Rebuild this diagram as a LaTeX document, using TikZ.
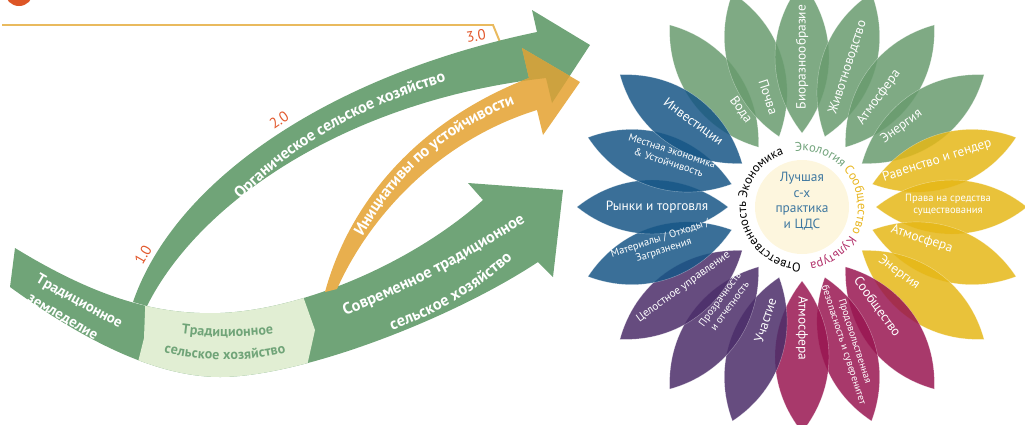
\documentclass[tikz,border=0pt]{standalone}
\usepackage{fontspec}
\setmainfont{PT Sans}
\usetikzlibrary{decorations.text}

\definecolor{arrowgreen}{RGB}{112,164,120}
\definecolor{palegreen}{RGB}{225,238,211}
\definecolor{arroworange}{RGB}{232,175,78}
\definecolor{overlapochre}{RGB}{205,162,63}
\definecolor{scaleline}{RGB}{233,186,94}
\definecolor{scalenum}{RGB}{226,88,44}
\definecolor{badge}{RGB}{221,86,38}
\definecolor{ecogreen}{RGB}{104,155,110}
\definecolor{comyellow}{RGB}{229,183,23}
\definecolor{culmagenta}{RGB}{153,22,81}
\definecolor{resppurple}{RGB}{75,45,105}
\definecolor{econblue}{RGB}{23,86,134}
\definecolor{hubcream}{RGB}{253,246,222}
\definecolor{hubblue}{RGB}{63,120,160}
\definecolor{ecotext}{RGB}{112,162,122}
\definecolor{comtext}{RGB}{232,181,30}
\definecolor{cultext}{RGB}{178,48,106}

% one petal, turned about the flower centre
\newcommand{\petal}[2]{%
  \filldraw[petal, fill=#2, rotate=#1] (74,0) .. controls (120,36) and (180,36) .. (225,0)
    .. controls (180,-36) and (120,-36) .. (74,0) -- cycle;}

% lower band, ending in its arrowhead
\newcommand{\bandpath}{(15,248) .. controls (100,300) and (160,315) .. (220,313)
  .. controls (300,310) and (410,265) .. (483,200) -- (468,183) -- (563,190) -- (553,277)
  -- (538,262) .. controls (450,320) and (300,377) .. (220,377)
  .. controls (160,377) and (90,345) .. (10,287) -- cycle}
% upper green arrow
\newcommand{\organicpath}{(133,302) .. controls (175,180) and (330,75) .. (537,32)
  -- (532,10) -- (590,45) -- (552,103) -- (546,78)
  .. controls (350,100) and (200,200) .. (147,306) -- cycle}
% orange arrow
\newcommand{\orangepath}{(325,292) .. controls (350,200) and (420,120) .. (529,78)
  -- (522,48) -- (580,82) -- (543,135) -- (537,110)
  .. controls (440,140) and (370,215) .. (337,289) -- cycle}

\begin{document}
\begin{tikzpicture}[x=0.025cm, y=-0.025cm,
  petal/.style={fill opacity=0.85, draw=white, draw opacity=0.4, line width=0.3pt},
  petaltext/.style={text=white, align=center, inner sep=0pt, font=\fontsize{9.5}{11}\selectfont},
  smalltext/.style={petaltext, font=\fontsize{7.5}{8.6}\selectfont},
  num/.style={text=scalenum, inner sep=0pt, font=\fontsize{10.5}{12}\selectfont},
  hub/.style={circle, fill=hubcream, minimum size=2.35cm, inner sep=0pt},
  hubtext/.style={align=center, text=hubblue, inner sep=0pt, font=\fontsize{9.5}{11}\selectfont},
  arrowlabel/.style={decorate, decoration={text along path, text align=center, raise=-4pt,
    text={|\fontsize{11.5}{13}\selectfont\bfseries\color{white}|#1}}},
  fieldlabel/.style={decorate, decoration={text along path, text align=center, raise=-3.7pt,
    text={|\fontsize{10.5}{12}\selectfont\bfseries\color{white}|#1}}},
  bandlabel/.style={decorate, decoration={text along path, text align=center, raise=-3.5pt,
    text={|\fontsize{10}{12}\selectfont\bfseries\color{arrowgreen}|#1}}},
  ringlabel/.style 2 args={decorate, decoration={text along path,
    text={|\fontsize{9}{11}\selectfont\color{#1}|#2}}}]
\useasboundingbox (0,0) rectangle (1025,424);
\clip (0,0) rectangle (1025,424);

% badge and scale line
\fill[badge] (19,-8) circle[radius=14];
\draw[draw=scaleline, line width=1.4pt] (2,25) -- (493,25) -- (500,42);

% arrows
\fill[arrowgreen] \bandpath;
\begin{scope}
  \clip \bandpath;
  \fill[palegreen] (146,285) -- (144,338) -- (131,390) -- (306,390) -- (307,366) -- (315,330) -- (299,285) -- cycle;
\end{scope}
\fill[arrowgreen] \organicpath;
\fill[arroworange] \orangepath;
\begin{scope}
  \clip \organicpath;
  \fill[overlapochre] \orangepath;
\end{scope}

\node[num, rotate=60] (one) at (143,255) {1.0};
\node[num, rotate=35] (two) at (279,120) {2.0};
\node[num, rotate=8] (three) at (476,36) {3.0};

\path[arrowlabel={Органическое сельское хозяйство}] (200,240) .. controls (265,150) and (360,92) .. (500,62);
\path[arrowlabel={Инициативы по устойчивости}] (340,275) .. controls (375,180) and (440,118) .. (555,84);
\path[arrowlabel={Современное традиционное}] (310,322) .. controls (390,296) and (465,255) .. (552,198);
\path[arrowlabel={сельское хозяйство}] (355,337) .. controls (420,318) and (485,285) .. (535,228);
\path[fieldlabel={Традиционное}] (22,268) .. controls (55,288) and (98,311) .. (138,332);
\path[fieldlabel={земледелие}] (12,286) .. controls (45,306) and (82,327) .. (115,345);
\path[bandlabel={Традиционное}] (160,325) .. controls (200,334) and (255,334) .. (295,325);
\path[bandlabel={сельское хозяйство}] (138,339) .. controls (190,360) and (260,360) .. (312,339);

% flower
\begin{scope}[shift={(802,207)}, y=0.025cm]
  \petal{126}{ecogreen}
  \petal{108}{ecogreen}
  \petal{90}{ecogreen}
  \petal{72}{ecogreen}
  \petal{54}{ecogreen}
  \petal{36}{ecogreen}
  \petal{18}{comyellow}
  \petal{0}{comyellow}
  \petal{-18}{comyellow}
  \petal{-36}{comyellow}
  \petal{-54}{culmagenta}
  \petal{-72}{culmagenta}
  \petal{-90}{culmagenta}
  \petal{-108}{resppurple}
  \petal{-126}{resppurple}
  \petal{-144}{resppurple}
  \petal{-162}{econblue}
  \petal{180}{econblue}
  \petal{162}{econblue}
  \petal{144}{econblue}

  \node[hub] (hub) at (0,0) {};
  \node[hubtext] (goal) at (0,6) {Лучшая\\с-х\\практика\\и ЦДС};

  \path[ringlabel={ecotext}{Экология}] (97:56) arc[start angle=97, end angle=20, radius=56];
  \path[ringlabel={comtext}{Сообщество}] (42:56) arc[start angle=42, end angle=-40, radius=56];
  \path[ringlabel={cultext}{Культура}] (-31:56) arc[start angle=-31, end angle=-100, radius=56];
  \path[ringlabel={black}{Ответственность Экономика}] (-91:56) arc[start angle=-91, end angle=-270, radius=56];

  \node[petaltext, rotate=-54] (voda) at (122:115) {Вода};
  \node[petaltext, rotate=-72] (pochva) at (107:115) {Почва};
  \node[petaltext, rotate=90] (bio) at (90:150) {Биоразнообразие};
  \node[petaltext, rotate=72] (skot) at (72:147) {Животноводство};
  \node[petaltext, rotate=54] (atmoeco) at (55:134) {Атмосфера};
  \node[petaltext, rotate=36] (energyeco) at (39:128) {Энергия};
  \node[petaltext, rotate=18] (gender) at (19:143) {Равенство и гендер};
  \node[smalltext] (prava) at (1:146) {Права на средства\\существования};
  \node[petaltext, rotate=-18] (atmocom) at (-15:124) {Атмосфера};
  \node[petaltext, rotate=-36] (energycom) at (-34:117) {Энергия};
  \node[petaltext, rotate=-54] (soob) at (-53:125) {Сообщество};
  \node[smalltext, rotate=-72, font=\fontsize{7.2}{8.4}\selectfont] (food) at (-71:144) {Продовольственная\\безопасность и суверенитет};
  \node[petaltext, rotate=-90] (atmocul) at (-90:121) {Атмосфера};
  \node[petaltext, rotate=72] (uchastie) at (-108:119) {Участие};
  \node[smalltext, rotate=54] (prozr) at (-129:123) {Прозрачность\\и отчетность};
  \node[petaltext, rotate=36, font=\fontsize{8}{9.5}\selectfont] (upravl) at (-146:143) {Целостное управление};
  \node[smalltext, rotate=18] (otkhody) at (-165:145) {Материалы / Отходы /\\Загрязнения};
  \node[petaltext] (rynki) at (180:145) {Рынки и торговля};
  \node[smalltext, rotate=-18] (mestn) at (159:141) {Местная экономика\\\& Устойчивость};
  \node[petaltext, rotate=-36] (invest) at (142:138) {Инвестиции};
\end{scope}
\end{tikzpicture}
\end{document}
